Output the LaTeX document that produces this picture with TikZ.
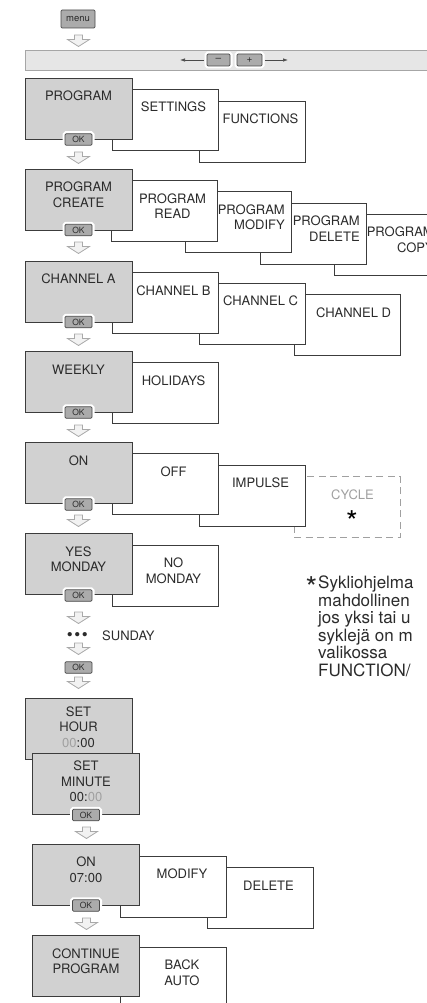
\documentclass[tikz,border=0pt]{standalone}
\usepackage{fontspec}
\setmainfont{TeX Gyre Heros}
\usetikzlibrary{positioning,arrows.meta}

\definecolor{boxgray}{HTML}{D1D1D1}
\definecolor{boxline}{HTML}{3C3C3C}
\definecolor{bargray}{HTML}{E6E6E6}
\definecolor{barline}{HTML}{A6A6A6}
\definecolor{btngray}{HTML}{ABABAB}
\definecolor{btnline}{HTML}{4A4A4A}
\definecolor{arrowgray}{HTML}{A9A9A9}
\definecolor{arrowfill}{HTML}{F2F2F2}
\definecolor{fadedgray}{HTML}{A0A0A0}
\definecolor{inkgray}{HTML}{2B2B2B}

\tikzset{
  every node/.style={text=inkgray},
  lbl/.style={anchor=north, inner sep=0pt, align=center, font=\fontsize{13}{15.5}\selectfont},
  boxtext/.style={lbl, yshift=-13.3pt},
  subtext/.style={boxtext, xshift=8.5pt},
  righttext/.style={lbl, anchor=north east, align=right, yshift=-13.3pt, xshift=-7pt},
  settext/.style={lbl, yshift=-8.3pt},
  mainbox/.style={draw=boxline, fill=boxgray, line width=0.9pt, minimum width=107pt, minimum height=61pt, inner sep=0pt},
  subbox/.style={mainbox, fill=white, minimum width=106pt},
  okbtn/.style={draw=btnline, fill=btngray, line width=0.7pt, rounded corners=1.2pt, minimum width=27pt, minimum height=11.5pt, inner sep=0pt, font=\fontsize{8.5}{8.5}\selectfont, preaction={draw=white, line width=5pt}},
  hollowarrow/.pic={\draw[arrowgray, fill=arrowfill, line width=0.8pt, line join=miter] (-4,0) -- (4,0) -- (4,4.5) -- (11,4.5) -- (0,11.5) -- (-11,4.5) -- (-4,4.5) -- cycle;}
}

\begin{document}
\begin{tikzpicture}[x=1pt, y=-1pt]
\path[use as bounding box, clip] (0,0) rectangle (427,1003);

% menu key and the +/- bar
\node (menu) [okbtn, minimum width=34pt, minimum height=18pt, font=\fontsize{9.5}{9.5}\selectfont] at (78,19) {menu};
\pic at (78.5,35) {hollowarrow};
\node (bar) [draw=barline, fill=bargray, line width=0.9pt, minimum width=420pt, minimum height=20pt, inner sep=0pt] at (235,60) {};
\node (minus) [okbtn, minimum width=23pt, minimum height=12pt, font=\fontsize{10}{10}\selectfont] at (218.5,60) {--};
\node (plus) [okbtn, minimum width=25pt, minimum height=12pt, font=\fontsize{10}{10}\selectfont] at (249.5,60) {+};
\coordinate (lefttip) at (180,60);
\coordinate (righttip) at (288,60);
\draw[btnline, line width=0.7pt, shorten <=2.5pt, -{Latex[length=5pt,width=3.5pt]}] (minus) -- (lefttip);
\draw[btnline, line width=0.7pt, shorten <=2.5pt, -{Latex[length=5pt,width=3.5pt]}] (plus) -- (righttip);

% PROGRAM
\node (functions) [subbox, label={[subtext]north:FUNCTIONS}] at (252,131.5) {};
\node (settings) [subbox, label={[subtext]north:SETTINGS}] at (165,119.5) {};
\node (program) [mainbox, label={[boxtext]north:PROGRAM}] at (78.5,108.5) {};
\node (ok1) [okbtn] at (78.5,139.5) {OK};
\pic at (78.5,152) {hollowarrow};

% PROGRAM CREATE
\node (copy) [subbox, label={[righttext]north east:{PROGRAM\\COPY}}] at (387.5,244.5) {};
\node (delete) [subbox, label={[righttext]north east:{PROGRAM\\DELETE}}] at (313.5,233.5) {};
\node (modify) [subbox, label={[righttext]north east:{PROGRAM\\MODIFY}}] at (238.5,222) {};
\node (read) [subbox, label={[subtext]north:{PROGRAM\\READ}}] at (164,211) {};
\node (create) [mainbox, label={[boxtext]north:{PROGRAM\\CREATE}}] at (78.5,199.5) {};
\node (ok2) [okbtn] at (78.5,230) {OK};
\pic at (78.5,242) {hollowarrow};

% CHANNEL
\node (chd) [subbox, label={[subtext, xshift=-2pt]north:CHANNEL D}] at (347,325) {};
\node (chc) [subbox, label={[subtext]north:CHANNEL C}] at (252,313.5) {};
\node (chb) [subbox, label={[subtext]north:CHANNEL B}] at (165,303) {};
\node (cha) [mainbox, label={[boxtext]north:CHANNEL A}] at (78.5,291.5) {};
\node (ok3) [okbtn] at (78.5,322) {OK};
\pic at (78.5,334) {hollowarrow};

% WEEKLY
\node (holidays) [subbox, label={[subtext]north:HOLIDAYS}] at (165,393) {};
\node (weekly) [mainbox, label={[boxtext]north:WEEKLY}] at (78.5,382) {};
\node (ok4) [okbtn] at (78.5,412.5) {OK};
\pic at (78.5,425) {hollowarrow};

% ON
\node (cycle) [subbox, draw=fadedgray, dash pattern=on 7pt off 4.5pt,
  label={[subtext, text=fadedgray, xshift=-3pt]north:CYCLE},
  label={[anchor=base, inner sep=0pt, yshift=-14.5pt, xshift=5pt, text=black, font=\fontsize{30}{30}\selectfont]center:*}] at (347,507) {};
\node (impulse) [subbox, label={[subtext]north:IMPULSE}] at (252,495.5) {};
\node (off) [subbox, label={[subtext]north:OFF}] at (165,484) {};
\node (on) [mainbox, label={[boxtext]north:ON}] at (78.5,473) {};
\node (ok5) [okbtn] at (78.5,504.5) {OK};
\pic at (78.5,515) {hollowarrow};

% YES MONDAY
\node (nomon) [subbox, label={[subtext]north:{NO\\MONDAY}}] at (165,575.5) {};
\node (yesmon) [mainbox, label={[boxtext]north:{YES\\MONDAY}}] at (78.5,564) {};
\node (ok6) [okbtn] at (78.5,595.5) {OK};
\pic at (78.5,612) {hollowarrow};

\node (sunday) [anchor=west, inner sep=0pt, font=\fontsize{13}{13}\selectfont] at (102,636) {SUNDAY};
\node (dots) [base left=14pt of sunday, inner sep=0pt, font=\fontsize{17}{17}\selectfont] {•\kern1.5pt•\kern1.5pt•};
\pic at (78.5,643) {hollowarrow};
\node (ok7) [okbtn] at (78.5,667.5) {OK};
\pic at (78.5,677) {hollowarrow};

% SET HOUR / SET MINUTE
\node (sethour) [mainbox, label={[settext]north:{SET\\HOUR\\{\color{fadedgray}00}:00}}] at (78.5,729) {};
\node (setmin) [mainbox, label={[settext]north:{SET\\MINUTE\\00:{\color{fadedgray}00}}}] at (86,783.5) {};
\node (ok8) [okbtn] at (86,815) {OK};
\pic at (86.5,827) {hollowarrow};

% ON 07:00
\node (delete2) [subbox, label={[subtext]north:DELETE}] at (260,898) {};
\node (modify2) [subbox, label={[subtext]north:MODIFY}] at (173.5,886.5) {};
\node (onat) [mainbox, label={[boxtext]north:{ON\\07:00}}] at (86,874.5) {};
\node (ok9) [okbtn] at (86,905.5) {OK};
\pic at (86.5,918) {hollowarrow};

% CONTINUE PROGRAM
\node (back) [subbox, label={[subtext]north:{BACK\\AUTO}}] at (173.5,977.5) {};
\node (continue) [mainbox, label={[boxtext]north:{CONTINUE\\PROGRAM}}] at (86,966) {};

% footnote
\node (note) [anchor=north west, align=left, inner sep=0pt, font=\fontsize{17}{17.5}\selectfont] at (318,576)
  {\llap{\smash{\raisebox{-10pt}{\fontsize{30}{30}\selectfont*}}\kern1pt}Sykliohjelma\\mahdollinen\\jos yksi tai u\\syklejä on m\\valikossa\\FUNCTION/};
\end{tikzpicture}
\end{document}
